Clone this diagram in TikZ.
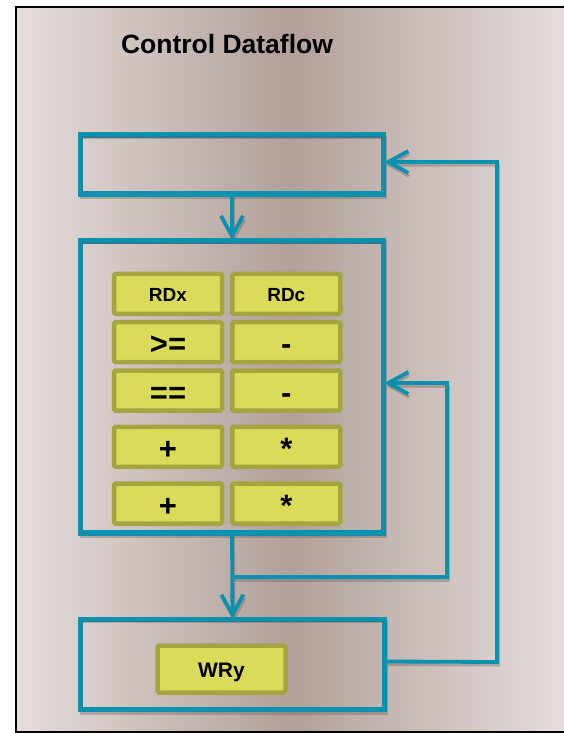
\documentclass[tikz,border=0pt]{standalone}
\usepackage{fontspec}
\setmainfont{Liberation Sans}
\usetikzlibrary{arrows.meta}
\definecolor{flowc}{RGB}{8,146,176}
\definecolor{cellfill}{RGB}{219,219,90}
\definecolor{celldraw}{RGB}{165,165,64}
\definecolor{bgedge}{RGB}{229,222,220}
\definecolor{bgmid}{RGB}{178,160,154}
\definecolor{shadowc}{RGB}{100,90,86}
\tikzset{
  box/.style={draw=flowc, line width=3.8pt, inner sep=0pt},
  flow/.style={draw=flowc, line width=3.8pt, -{Straight Barb[length=20pt,width=22pt]}},
  shadowline/.style={draw=shadowc, line width=3pt, opacity=0.35},
  shadowflow/.style={shadowline, -{Straight Barb[length=20pt,width=22pt]}},
  cell/.style={draw=celldraw, fill=cellfill, line width=4.5pt, rounded corners=1.5pt,
    minimum width=108pt, minimum height=40pt, inner sep=0pt},
  small/.style={font=\fontsize{19}{22}\selectfont\bfseries, text height=19pt, text depth=3pt},
  op/.style={font=\fontsize{31}{34}\selectfont\bfseries, text height=31pt, text depth=6pt},
  big/.style={font=\fontsize{21}{24}\selectfont\bfseries, text height=21pt, text depth=3.5pt},
}
\newcommand\myflows[2]{%
  \draw[#2] (top.south) -- (mid.north);
  \draw[#2] (mid.south) -- (bot.north);
  \draw[#2] (split) -- (m1) -- (m2) -- ([yshift=3.7pt]mid.east);
  \draw[#2] ([yshift=3pt]bot.east) -- (r1) -- (r2) -- ([yshift=2.5pt]top.east);
  \draw[#1] (top.north west) rectangle (top.south east);
  \draw[#1] (mid.north west) rectangle (mid.south east);
  \draw[#1] (bot.north west) rectangle (bot.south east);
}
\begin{document}
\begin{tikzpicture}[x=1pt,y=-1pt]
\useasboundingbox (0,0) rectangle (563,733);
% background
\shade[left color=bgedge, right color=bgedge, middle color=bgmid] (16,7) rectangle (565,732);
\draw[black, line width=1.4pt] (565,7) -- (16,7) -- (16,732) -- (565,732);
% title
\node[font=\fontsize{26.5}{30}\selectfont\bfseries, anchor=center] (title) at (227,44) {Control Dataflow};
% boxes
\node[box, minimum width=301pt, minimum height=57pt] (top) at (232,164.5) {};
\node[box, minimum width=301pt, minimum height=290pt] (mid) at (232,386.7) {};
\node[box, minimum width=302pt, minimum height=88pt] (bot) at (232.5,664.5) {};
\coordinate (split) at (232,577);
\coordinate (m1) at (447,577);
\coordinate (m2) at (447,383);
\coordinate (r1) at (497,662);
\coordinate (r2) at (497,162);
% shadows
\begin{scope}[transform canvas={shift={(1.5pt,-3pt)}}]
\myflows{shadowline}{shadowflow}
\end{scope}
% main lines
\myflows{box}{flow}
% cells
\node[cell, small] (c11) at (168,293.9) {RDx};
\node[cell, small] (c12) at (286.3,293.9) {RDc};
\node[cell, op] (c21) at (168,342.2) {>=};
\node[cell, op] (c22) at (286.3,342.2) {-};
\node[cell, op] (c31) at (168,390.5) {==};
\node[cell, op] (c32) at (286.3,390.5) {-};
\node[cell, op] (c41) at (168,446.8) {+};
\node[cell, op] (c42) at (286.3,446.8) {*};
\node[cell, op] (c51) at (168,503.5) {+};
\node[cell, op] (c52) at (286.3,503.5) {*};
\node[cell, big, minimum width=128pt, minimum height=47pt] (wry) at (221.5,669) {WRy};
\end{tikzpicture}
\end{document}
